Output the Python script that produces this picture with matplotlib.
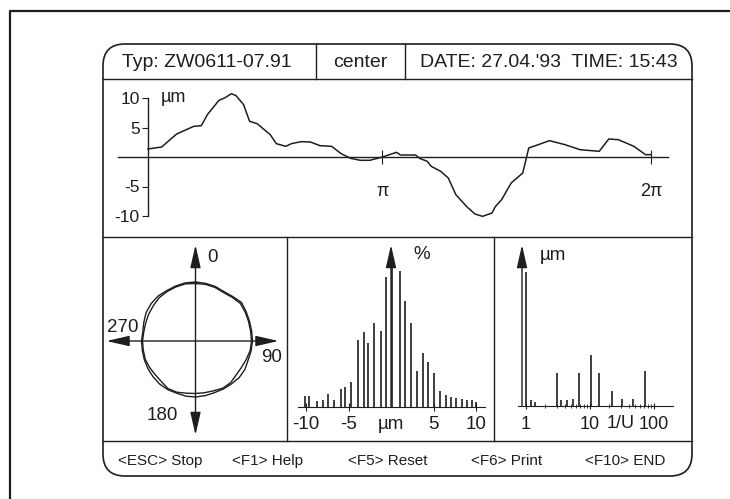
import numpy as np
import matplotlib.pyplot as plt
from matplotlib.patches import FancyBboxPatch
from matplotlib.ticker import FixedLocator, NullFormatter

plt.rcParams['font.family'] = ['Liberation Sans', 'DejaVu Sans']
ink = '#1e1e1e'

# header and footer texts
typ_text = 'Typ: ZW0611-07.91'
pos_text = 'center'
date_text = "DATE: 27.04.'93  TIME: 15:43"
key_labels = ['<ESC> Stop', '<F1> Help', '<F5> Reset', '<F6> Print', '<F10> END']

# roundness profile, position as fraction of one turn, deviation in um
turn = [0.000, 0.027, 0.057, 0.091, 0.106, 0.118, 0.141, 0.152, 0.166, 0.175,
        0.190, 0.202, 0.217, 0.243, 0.255, 0.274, 0.285, 0.304, 0.323, 0.342,
        0.365, 0.384, 0.403, 0.422, 0.441, 0.466, 0.494, 0.502, 0.532, 0.540,
        0.555, 0.563, 0.582, 0.597, 0.612, 0.635, 0.650, 0.665, 0.684, 0.690,
        0.703, 0.722, 0.745, 0.757, 0.776, 0.798, 0.829, 0.859, 0.897, 0.916,
        0.935, 0.966, 0.989, 1.000]
dev = [1.36, 1.69, 3.90, 5.20, 5.31, 7.18, 9.60, 10.0, 10.73, 10.40,
       8.87, 6.05, 5.65, 3.79, 2.26, 1.81, 2.26, 2.60, 2.54, 1.92,
       1.81, 0.56, -0.23, -0.56, -0.56, 0.0, 0.79, 0.34, 0.34, -0.23,
       -0.73, -1.58, -2.43, -3.56, -6.38, -8.53, -9.66, -10.06, -9.49, -8.47,
       -7.23, -4.41, -2.71, 1.53, 2.09, 2.77, 2.09, 1.24, 0.96, 3.05,
       2.94, 1.81, 0.40, 0.40]
phase_ticks = [0.466, 1.0]
phase_labels = ['π', '2π']
dev_ticks = [-10, -5, 5, 10]

# polar view, angle clockwise from top (deg), two traces
polar_deg = list(range(0, 360, 10))
polar_outer = [59, 58.5, 58, 57, 58, 60, 58.5, 57.5, 57, 57, 56.5, 56, 57, 57, 56, 55.5, 55, 55.5,
               56, 56, 55.5, 56, 56, 55.5, 55, 54.5, 54, 54, 53.5, 55, 57, 58, 58.5, 58, 58.5, 59]
polar_inner = [57.5, 57.5, 57, 56, 57, 58.5, 57.5, 56.5, 56, 56, 55.5, 54, 53, 53, 54.5, 54.5, 53, 52.5,
               52.5, 53, 54.5, 55, 53, 52.5, 53, 53.5, 53, 53, 52.5, 53, 54, 55, 56.5, 57, 57.5, 58]

# distribution of deviations
hist_um = [-10.1, -9.7, -8.7, -8.0, -7.4, -6.7, -5.9, -5.4, -4.7, -3.9, -3.2, -2.7, -2.0, -1.2, -0.6,
           0.15, 1.1, 1.6, 2.3, 3.1, 3.8, 4.3, 5.1, 5.8, 6.5, 7.0, 7.7, 8.3, 8.9, 9.5, 10.0]
hist_pct = [1.1, 1.1, 0.6, 0.7, 1.3, 0.7, 1.8, 2.0, 2.5, 6.7, 7.5, 6.4, 8.4, 7.6, 13.0,
            14.0, 13.6, 10.6, 8.4, 3.6, 5.4, 4.5, 3.4, 1.6, 1.2, 1.0, 0.9, 0.8, 0.7, 0.7, 0.5]
hist_ticks = [-10, -5, 0, 5, 10]
hist_labels = ['-10', '-5', 'µm', '5', '10']

# harmonic spectrum
harm = [1, 1.18, 1.38, 3.08, 3.52, 4.32, 5.37, 6.8, 10.4, 14.0, 21.8, 32.0, 46.5, 72.3]
amp = [13.4, 0.6, 0.4, 3.3, 0.6, 0.6, 0.7, 3.3, 5.1, 3.3, 1.5, 0.7, 0.7, 3.5]
harm_ticks = [1, 10, 100]
harm_minor = [2, 3, 4, 5, 6, 7, 8, 9, 20, 30, 40, 50, 60, 70, 80, 90]

W, H = 730, 499
fig = plt.figure(figsize=(W / 100, H / 100), dpi=100)


def px_axes(x0, y0, x1, y1):
    a = fig.add_axes([x0 / W, 1 - y1 / H, (x1 - x0) / W, (y1 - y0) / H])
    a.set_facecolor('none')
    return a


# frame drawing in pixel coordinates
bg = fig.add_axes([0, 0, 1, 1])
bg.set_xlim(0, W)
bg.set_ylim(H, 0)
bg.axis('off')
bg.plot([9.5, 9.5, W], [H, 10.5, 10.5], color=ink, lw=1.6)
bg.add_patch(FancyBboxPatch((103, 44), 589, 432, boxstyle='round,pad=0,rounding_size=22',
                            fill=False, ec=ink, lw=1.2))
bg.plot([103, 692], [79, 79], color=ink, lw=1.0)
bg.plot([103, 692], [237, 237], color=ink, lw=1.0)
bg.plot([103, 692], [441, 441], color=ink, lw=1.0)
for xv in [316, 405]:
    bg.plot([xv, xv], [44, 79], color=ink, lw=1.0)
for xv in [287, 494]:
    bg.plot([xv, xv], [237, 441], color=ink, lw=1.0)
bg.text(207, 62, typ_text, ha='center', va='center', fontsize=14, color=ink)
bg.text(360, 62, pos_text, ha='center', va='center', fontsize=14, color=ink)
bg.text(549, 62, date_text, ha='center', va='center', fontsize=14, color=ink)
for xc, lab in zip([160, 268, 388, 507, 625], key_labels):
    bg.text(xc, 461, lab, ha='center', va='center', fontsize=11, color=ink)

# top: profile over one turn
ax1 = px_axes(104, 80, 691, 236)
ax1.set_xlim((104 - 148) / 503, (691 - 148) / 503)
ax1.set_ylim(-(236 - 157) / 5.9, (157 - 80) / 5.9)
ax1.plot(turn, dev, color=ink, lw=1.1)
for s in ['top', 'right']:
    ax1.spines[s].set_visible(False)
ax1.spines['left'].set_position(('data', 0))
ax1.spines['left'].set_bounds(-10, 10)
ax1.spines['bottom'].set_position(('data', 0))
ax1.spines['bottom'].set_bounds(-0.06, 1.034)
for s in ['left', 'bottom']:
    ax1.spines[s].set_color(ink)
    ax1.spines[s].set_linewidth(1.0)
ax1.set_yticks(dev_ticks)
ax1.set_yticklabels([str(t) for t in dev_ticks])
ax1.tick_params(axis='y', direction='out', length=4, labelsize=12.5, pad=2, colors=ink)
ax1.set_xticks(phase_ticks)
ax1.set_xticklabels(phase_labels)
ax1.tick_params(axis='x', direction='inout', length=10, labelsize=13, pad=14, colors=ink)
ax1.text(0.025, 10, 'µm', fontsize=13, va='center', color=ink)

# bottom left: polar view
ax2 = px_axes(104, 238, 287, 440)
ax2.set_xlim(-91.5, 91.5)
ax2.set_ylim(-99, 103)
ax2.axis('off')
th = np.deg2rad(polar_deg + [polar_deg[0]])
for rr in [polar_outer, polar_inner]:
    r = np.array(rr + [rr[0]])
    ax2.plot(r * np.sin(th), r * np.cos(th), color=ink, lw=1.0)
arrow = dict(arrowstyle='<|-|>,head_length=1.4,head_width=0.32', color=ink, lw=1.0,
             shrinkA=0, shrinkB=0)
ax2.annotate('', xy=(0, 96), xytext=(0, -94), arrowprops=arrow)
ax2.annotate('', xy=(83, 0), xytext=(-89, 0), arrowprops=arrow)
ax2.text(17.5, 83, '0', ha='center', va='center', fontsize=13.5, color=ink)
ax2.text(76.5, -17, '90', ha='center', va='center', fontsize=13.5, color=ink)
ax2.text(-33.5, -74, '180', ha='center', va='center', fontsize=13.5, color=ink)
ax2.text(-72.5, 14, '270', ha='center', va='center', fontsize=13.5, color=ink)

# bottom middle: histogram
ax3 = px_axes(288, 238, 493, 440)
ax3.set_xlim((288 - 391) / 8.5, (493 - 391) / 8.5)
ax3.set_ylim(-(440 - 406.5) / 10, (406.5 - 238) / 10)
ax3.vlines(hist_um, 0, hist_pct, color=ink, lw=1.2)
for s in ['top', 'right', 'left']:
    ax3.spines[s].set_visible(False)
ax3.spines['bottom'].set_position(('data', 0))
ax3.spines['bottom'].set_bounds(-10.9, 11.1)
ax3.spines['bottom'].set_color(ink)
ax3.set_yticks([])
ax3.set_xticks(hist_ticks)
ax3.set_xticklabels(hist_labels)
ax3.tick_params(axis='x', direction='inout', length=6, labelsize=13.5, pad=4, colors=ink)
ax3.xaxis.get_major_ticks()[2].tick1line.set_visible(False)
ax3.annotate('', xy=(0, 16.15), xytext=(0, 0),
             arrowprops=dict(arrowstyle='-|>,head_length=1.4,head_width=0.32', color=ink,
                             lw=1.0, shrinkA=0, shrinkB=0))
ax3.text(3.6, 15.2, '%', ha='center', va='center', fontsize=13.5, color=ink)

# bottom right: harmonic spectrum
ax4 = px_axes(495, 238, 691, 440)
ax4.set_xscale('log')
ax4.set_xlim(10 ** ((495 - 526) / 64), 10 ** ((691 - 526) / 64))
ax4.set_ylim(-(440 - 406) / 10, (406 - 238) / 10)
ax4.vlines(harm, 0, amp, color=ink, lw=1.2)
for s in ['top', 'right', 'left']:
    ax4.spines[s].set_visible(False)
ax4.spines['bottom'].set_position(('data', 0))
ax4.spines['bottom'].set_bounds(0.75, 198)
ax4.spines['bottom'].set_color(ink)
ax4.set_yticks([])
ax4.set_xticks(harm_ticks)
ax4.set_xticklabels([str(t) for t in harm_ticks])
ax4.xaxis.set_minor_locator(FixedLocator(harm_minor))
ax4.xaxis.set_minor_formatter(NullFormatter())
ax4.tick_params(axis='x', which='major', direction='inout', length=4, labelsize=13, pad=5,
                colors=ink)
ax4.tick_params(axis='x', which='minor', direction='inout', length=3, colors=ink)
ax4.annotate('', xy=(0.866, 16.1), xytext=(0.866, 0),
             arrowprops=dict(arrowstyle='-|>,head_length=1.4,head_width=0.32', color=ink,
                             lw=1.0, shrinkA=0, shrinkB=0))
ax4.text(2.6, 15.1, 'µm', ha='center', va='center', fontsize=13.5, color=ink)
ax4.text(30.5, -1.7, '1/U', ha='center', va='center', fontsize=13, color=ink)

fig.savefig('out.png', dpi=100)
